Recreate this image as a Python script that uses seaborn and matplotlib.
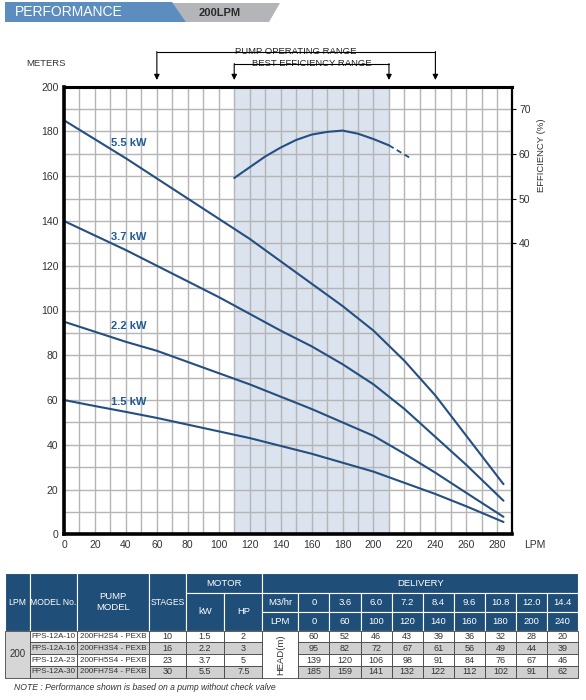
import numpy as np
import pandas as pd
import matplotlib
matplotlib.use("Agg")
import matplotlib.pyplot as plt
import seaborn as sns
from matplotlib.patches import Polygon, Rectangle
from matplotlib.lines import Line2D
import matplotlib.transforms as mtransforms

# ── Data ─────────────────────────────────────────────────────
# delivery table
table_lpm = [0, 60, 100, 120, 140, 160, 180, 200, 240]
table_m3hr = ["0", "3.6", "6.0", "7.2", "8.4", "9.6", "10.8", "12.0", "14.4"]
models = ["FPS-12A-10", "FPS-12A-16", "FPS-12A-23", "FPS-12A-30"]
pump_models = ["200FH2S4 - PEXB", "200FH3S4 - PEXB", "200FH5S4 - PEXB", "200FH7S4 - PEXB"]
stages = ["10", "16", "23", "30"]
motor_kw = ["1.5", "2.2", "3.7", "5.5"]
motor_hp = ["2", "3", "5", "7.5"]
head_table = [
    [60, 52, 46, 43, 39, 36, 32, 28, 20],
    [95, 82, 72, 67, 61, 56, 49, 44, 39],
    [139, 120, 106, 98, 91, 84, 76, 67, 46],
    [185, 159, 141, 132, 122, 112, 102, 91, 62],
]

# curves
curve_lpm = [0, 20, 40, 60, 80, 100, 120, 140, 160, 180, 200, 220, 240, 260, 284]
head_15 = [60, 57.3, 54.7, 52, 49, 46, 43, 39.5, 36, 32, 28, 23, 18, 12.5, 5.5]
head_22 = [95, 90.5, 86, 82, 77, 72, 67, 61.5, 56, 50, 44, 36, 27.5, 18.5, 7.8]
head_37 = [140, 133.5, 127, 120, 113, 106, 98.5, 91, 84, 76, 67, 56, 43.5, 31, 15]
head_55 = [185, 176.5, 168, 159, 150, 141, 132, 122, 112, 102, 91, 77.5, 62, 44, 22.4]
curve_labels = ["1.5 kW", "2.2 kW", "3.7 kW", "5.5 kW"]

eff_lpm = [110, 120, 130, 140, 150, 160, 170, 180, 190, 200, 210]
eff_val = [54.6, 57.0, 59.4, 61.4, 63.1, 64.3, 64.9, 65.2, 64.5, 63.3, 61.9]
eff_dash_lpm = [210, 225]
eff_dash_val = [61.9, 58.8]

operating_range = [60, 240]
best_eff_range = [110, 210]

# ── Style ────────────────────────────────────────────────────
sns.set_theme(style="white")
plt.rcParams["font.family"] = ["Liberation Sans", "DejaVu Sans"]

LINE = "#244f80"
LABEL = "#1f5b99"
HDR = "#1f4e79"
GRID = "#b5b5b5"
SHADE = "#dbe3ee"
TXT = "#333333"

W, H = 586, 700
fig = plt.figure(figsize=(W / 100, H / 100), dpi=100)

# overlay in pixel coordinates for banner and table
ov = fig.add_axes([0, 0, 1, 1])
ov.set_xlim(0, W)
ov.set_ylim(H, 0)
ov.set_axis_off()

# ── Header banner ────────────────────────────────────────────
ov.add_patch(Polygon([(172, 3), (280, 3), (269, 22), (186, 22)], closed=True,
                     fc="#b3b5b8", ec="none"))
ov.add_patch(Polygon([(5, 2), (172, 2), (186, 22), (5, 22)], closed=True,
                     fc="#5b8dbf", ec="none"))
ov.text(15, 12.5, "PERFORMANCE", color="white", fontsize=10, va="center", ha="left")
ov.text(220, 13, "200LPM", color="#2b2b2b", fontsize=8, va="center", ha="center",
        fontweight="bold")

# ── Main chart ───────────────────────────────────────────────
x0, x1, ytop, ybot = 64, 512, 86.7, 534.3
ax = fig.add_axes([x0 / W, 1 - ybot / H, (x1 - x0) / W, (ybot - ytop) / H])
ax.set_facecolor("white")
ax.axvspan(best_eff_range[0], best_eff_range[1], color=SHADE, zorder=0.2, lw=0)
ax.set_xlim(0, 289.5)
ax.set_ylim(0, 200)
ax.set_xticks(range(0, 281, 20))
ax.set_xticks(range(0, 290, 10), minor=True)
ax.set_yticks(range(0, 201, 20))
ax.set_yticks(range(0, 201, 10), minor=True)
ax.set_axisbelow(True)
ax.grid(which="both", color=GRID, lw=1.0, zorder=0.5)
ax.tick_params(which="both", length=0, labelsize=7.5, labelcolor=TXT, pad=4)
for side, lw in [("left", 2.6), ("bottom", 2.6), ("top", 2.2), ("right", 1.6)]:
    ax.spines[side].set_color("black")
    ax.spines[side].set_linewidth(lw)
    ax.spines[side].set_zorder(5)

curves = pd.DataFrame({
    "lpm": curve_lpm * 4,
    "head": head_15 + head_22 + head_37 + head_55,
    "motor": sum([[lab] * len(curve_lpm) for lab in curve_labels], []),
})
sns.lineplot(data=curves, x="lpm", y="head", hue="motor", palette=[LINE] * 4,
             estimator=None, sort=False, legend=False, lw=1.5, ax=ax)
ax.set_xlabel("")
ax.set_ylabel("")

label_y = [59, 93, 133, 175]
for lab, yy in zip(curve_labels, label_y):
    ax.text(42, yy, lab, color=LABEL, fontsize=8, fontweight="bold",
            ha="center", va="center")

# efficiency on the right axis
ax2 = ax.twinx()
ax2.set_ylim(-25, 75)
ax2.set_yticks([40, 50, 60, 70])
ax2.tick_params(axis="y", length=3, width=0.8, color="black", labelsize=7.5,
                labelcolor=TXT, pad=2)
for s in ax2.spines.values():
    s.set_visible(False)
sns.lineplot(x=eff_lpm, y=eff_val, color=LINE, lw=1.5, ax=ax2)
sns.lineplot(x=eff_dash_lpm, y=eff_dash_val, color=LINE, lw=1.3, ax=ax2,
             linestyle=(0, (3, 2)))
ax2.set_ylabel("")


# ── Range annotations ────────────────────────────────────────
def yf(py):
    return 1 - py / H


blend = mtransforms.blended_transform_factory(ax.transData, fig.transFigure)


def range_marker(rng, py_line, text):
    xa, xb = rng
    fig.add_artist(Line2D([xa, xb], [yf(py_line), yf(py_line)], color="black",
                          lw=0.8, transform=blend, clip_on=False))
    for xx in rng:
        ax.annotate("", xy=(xx, yf(80)), xytext=(xx, yf(py_line) + 0.0006),
                    xycoords=("data", "figure fraction"),
                    textcoords=("data", "figure fraction"),
                    arrowprops=dict(arrowstyle="-|>", color="black", lw=0.8,
                                    mutation_scale=8, shrinkA=0, shrinkB=0))
    ax.annotate(text, xy=((xa + xb) / 2, yf(py_line)),
                xycoords=("data", "figure fraction"), ha="center", va="center",
                fontsize=6.8, color="#222222",
                bbox=dict(fc="white", ec="none", pad=1.5))


range_marker(operating_range, 52, "PUMP OPERATING RANGE")
range_marker(best_eff_range, 64, "BEST EFFICIENCY RANGE")

fig.text(46 / W, yf(63), "METERS", fontsize=6.8, color=TXT, ha="center", va="center")
fig.text(535 / W, yf(545), "LPM", fontsize=7.5, color=TXT, ha="center", va="center")
fig.text(541 / W, yf(155), "EFFICIENCY (%)", fontsize=6.8, color=TXT, rotation=90,
         ha="center", va="center")

# ── Table ────────────────────────────────────────────────────
cols = [5, 30, 76.7, 149, 185.7, 224.3, 262.3, 298.3]
val_w = (578.3 - 298.3) / len(table_lpm)
val_cols = [298.3 + i * val_w for i in range(len(table_lpm) + 1)]
rows = [573, 592.7, 611.7, 630.7, 642.4, 654.1, 665.8, 677.5]


def cell(xa, xb, ya, yb, text="", fc="white", tc=TXT, ec="#444444", lw=0.6,
         size=6.5, rot=0):
    ov.add_patch(Rectangle((xa, ya), xb - xa, yb - ya, fc=fc, ec=ec, lw=lw))
    if text:
        ov.text((xa + xb) / 2, (ya + yb) / 2 + 0.3, text, color=tc, fontsize=size,
                ha="center", va="center", rotation=rot, linespacing=1.3)


hdr = dict(fc=HDR, tc="white", ec="white", lw=0.8, size=6.8)
small_hdr = dict(hdr, size=6.2)
cell(cols[0], cols[1], rows[0], rows[3], "LPM", **small_hdr)
cell(cols[1], cols[2], rows[0], rows[3], "MODEL No.", **small_hdr)
cell(cols[2], cols[3], rows[0], rows[3], "PUMP\nMODEL", **hdr)
cell(cols[3], cols[4], rows[0], rows[3], "STAGES", **small_hdr)
cell(cols[4], cols[6], rows[0], rows[1], "MOTOR", **hdr)
cell(cols[4], cols[5], rows[1], rows[3], "kW", **hdr)
cell(cols[5], cols[6], rows[1], rows[3], "HP", **hdr)
cell(cols[6], val_cols[-1], rows[0], rows[1], "DELIVERY", **hdr)
cell(cols[6], cols[7], rows[1], rows[2], "M3/hr", **hdr)
cell(cols[6], cols[7], rows[2], rows[3], "LPM", **hdr)
for i, (m3, lp) in enumerate(zip(table_m3hr, table_lpm)):
    cell(val_cols[i], val_cols[i + 1], rows[1], rows[2], m3, **hdr)
    cell(val_cols[i], val_cols[i + 1], rows[2], rows[3], str(lp), **hdr)

cell(cols[0], cols[1], rows[3], rows[7], "200", fc="#d6d6d6", size=7)
cell(cols[6], cols[7], rows[3], rows[7], "HEAD(m)", rot=90, size=6.8)
for r in range(4):
    fc = "white" if r % 2 == 0 else "#d0d0d0"
    ya, yb = rows[3 + r], rows[4 + r]
    vals = [models[r], pump_models[r], stages[r], motor_kw[r], motor_hp[r]]
    for c, v in enumerate(vals):
        cell(cols[c + 1], cols[c + 2], ya, yb, v, fc=fc, size=5.8 if c < 2 else 6.5)
    for i, hv in enumerate(head_table[r]):
        cell(val_cols[i], val_cols[i + 1], ya, yb, str(hv), fc=fc)

ov.text(14, 687, "NOTE : Performance shown is based on a pump without check valve",
        fontsize=6.2, style="italic", color=TXT, ha="left", va="center")

fig.savefig("out.png", dpi=100)
